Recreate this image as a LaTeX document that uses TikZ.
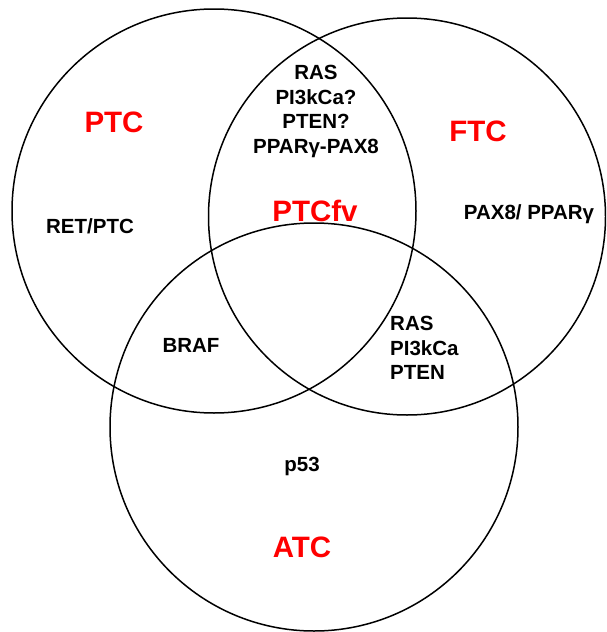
\documentclass[tikz,border=0pt]{standalone}
\usepackage{fontspec}
\setmainfont{Liberation Sans}
\definecolor{setred}{RGB}{255,0,0}
\begin{document}
\begin{tikzpicture}[x=1pt,y=-1pt,
  ring/.style={draw=black,line width=1.5pt},
  setname/.style={text=setred,font=\bfseries\fontsize{29.5}{32}\selectfont,inner sep=0pt},
  gene/.style={text=black,font=\bfseries\fontsize{20.5}{24.5}\selectfont,inner sep=0pt}]
  \useasboundingbox (0,0) rectangle (606,632);
  \clip (0,0) rectangle (606,632);
  % three overlapping sets
  \draw[ring] (214,211) circle[radius=202];
  \draw[ring] (407,216.5) circle[radius=198.5];
  \draw[ring] (314,427) circle[radius=204];
  % set names
  \node[setname] (ptc) at (114,122) {PTC};
  \node[setname] (ftc) at (478,131) {FTC};
  \node[setname] (ptcfv) at (315,211) {PTCfv};
  \node[setname] (atc) at (302,547) {ATC};
  % genetic alterations
  \node[gene] (retptc) at (90,226) {RET/PTC};
  \node[gene] (paxppar) at (529,214) {PAX8/ PPARγ};
  \node[gene] (braf) at (191,345) {BRAF};
  \node[gene] (p53) at (302,466) {p53};
  \node[gene,align=center] (shared) at (316,111.5) {RAS\\PI3kCa?\\PTEN?\\PPARγ-PAX8};
  \node[gene,align=left,anchor=west] (ftcatc) at (390,348) {RAS\\PI3kCa\\PTEN};
\end{tikzpicture}
\end{document}
